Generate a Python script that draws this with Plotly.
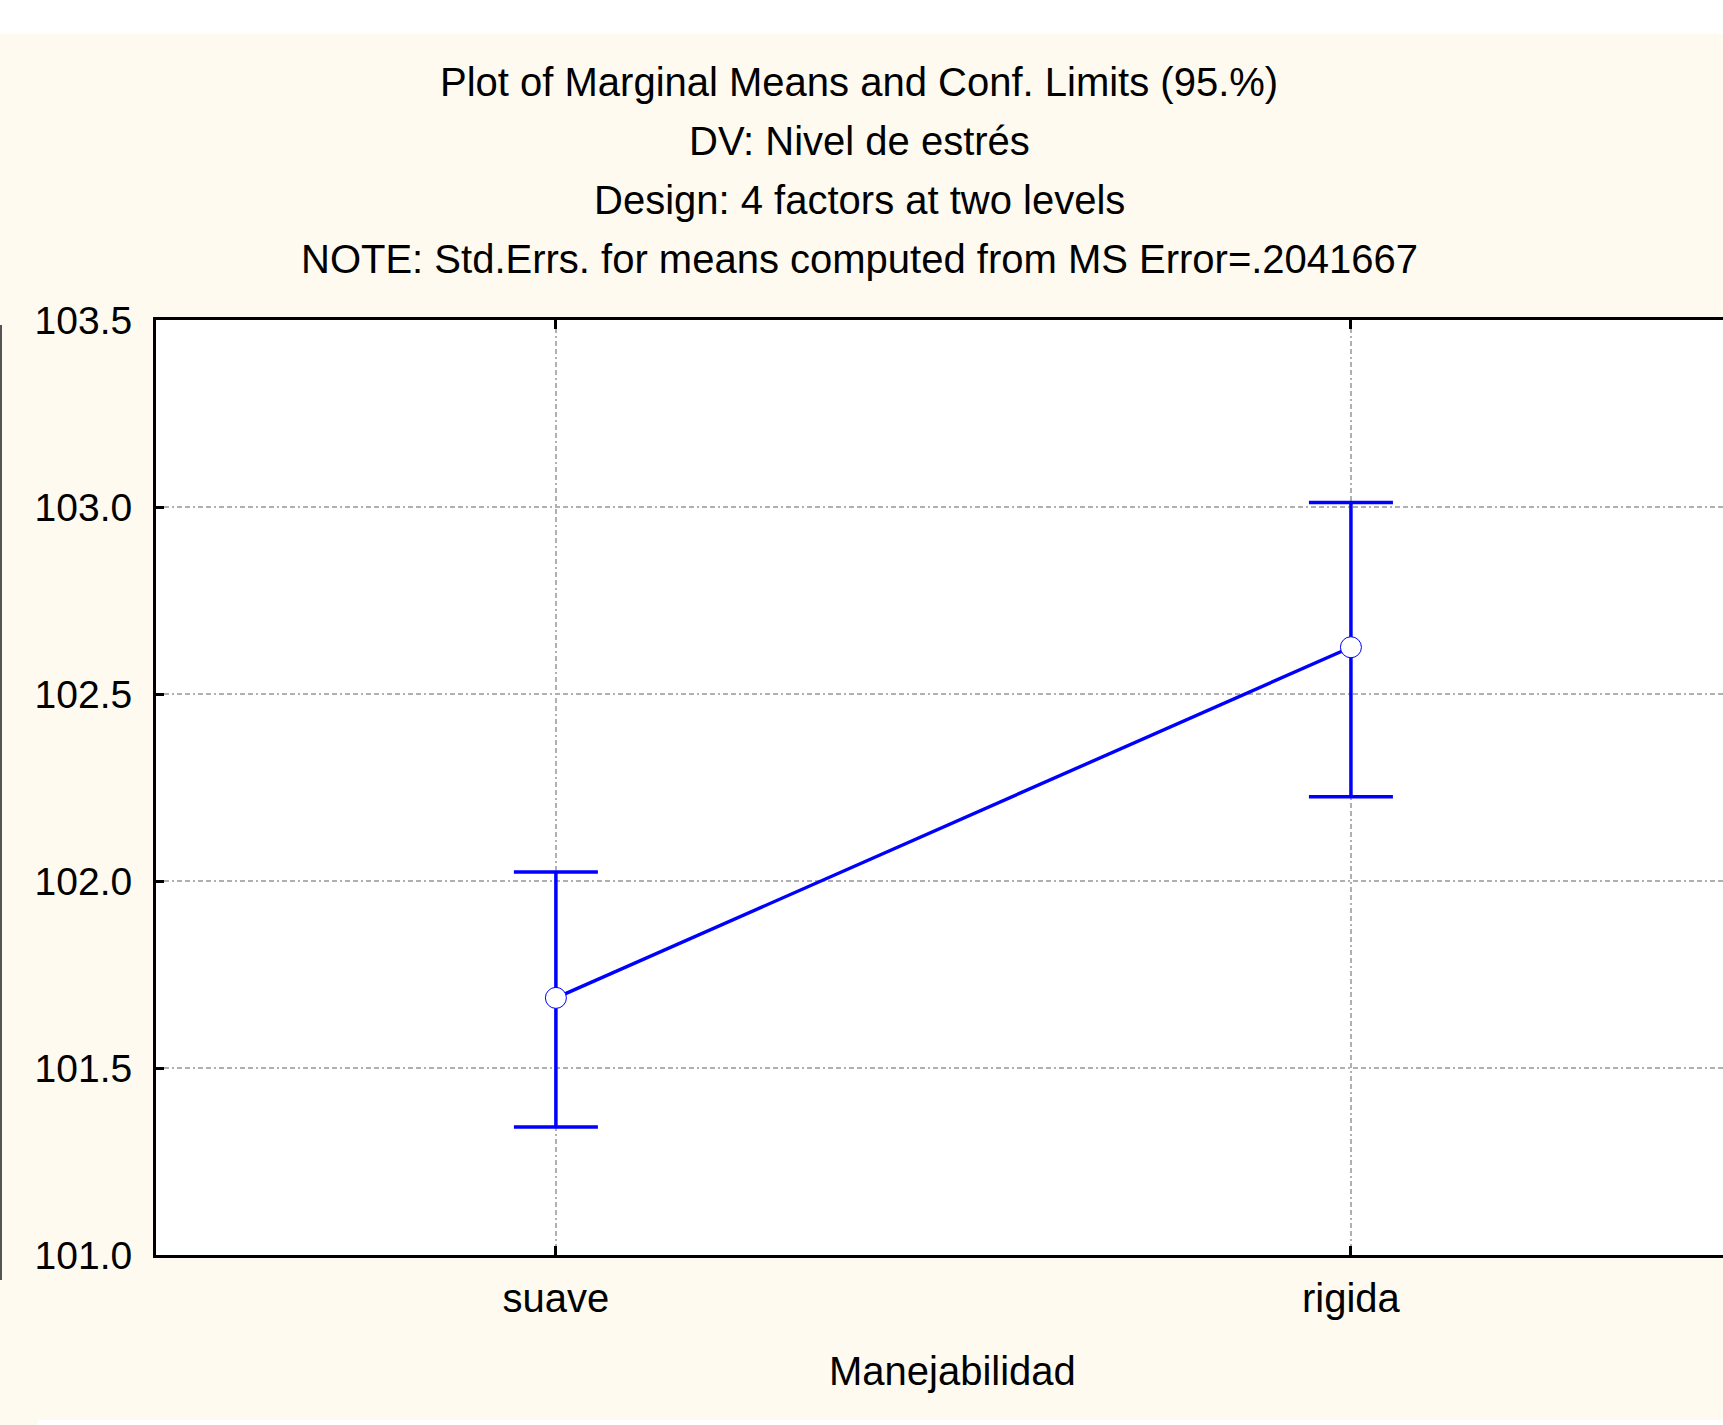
import plotly.graph_objects as go

# ---- data ----
categories = ["suave", "rigida"]
means = [101.6875, 102.625]
upper_limits = [102.024, 103.012]
lower_limits = [101.342, 102.225]
y_ticks = [101.0, 101.5, 102.0, 102.5, 103.0, 103.5]
title_lines = [
    "Plot of Marginal Means and Conf. Limits (95.%)",
    "DV: Nivel de estrés",
    "Design: 4 factors at two levels",
    "NOTE: Std.Errs. for means computed from MS Error=.2041667",
]
x_title = "Manejabilidad"

W, H = 1723, 1425
BEIGE = "#FFFAEF"
BLUE = "#0000FF"
FONT = "Liberation Sans, Arial, sans-serif"

err_plus = [u - m for u, m in zip(upper_limits, means)]
err_minus = [m - l for m, l in zip(means, lower_limits)]

fig = go.Figure()
fig.add_trace(go.Scatter(
    x=categories, y=means, mode="lines+markers",
    line=dict(color=BLUE, width=3.4),
    marker=dict(symbol="circle", size=21, color="white", line=dict(color=BLUE, width=1)),
    error_y=dict(type="data", symmetric=False, array=err_plus, arrayminus=err_minus,
                 color=BLUE, thickness=3.5, width=42),
    showlegend=False,
))

def px_x(p):
    return p / W

def px_y(p):
    return 1 - p / H

grid_dash = "5px,3px,5px,3px,2px,3px"

fig.update_layout(
    width=W, height=H,
    margin=dict(l=0, r=0, t=0, b=0, pad=0, autoexpand=False),
    paper_bgcolor=BEIGE, plot_bgcolor="white",
    font=dict(family=FONT, color="black", size=40),
    xaxis=dict(
        type="category", domain=[px_x(156), 1], range=[-0.503, 1.468],
        showline=True, linecolor="black", linewidth=3, mirror="ticks",
        ticks="inside", ticklen=9, tickwidth=3, tickcolor="black",
        showgrid=True, gridcolor="#B0B0B0", gridwidth=2, griddash=grid_dash,
        tickfont=dict(size=40), zeroline=False, automargin=False,
        ticklabelstandoff=6,
    ),
    yaxis=dict(
        domain=[px_y(1255), px_y(320)], range=[101.0, 103.5],
        tickvals=y_ticks, tickformat=".1f",
        showline=True, linecolor="black", linewidth=3,
        ticks="inside", ticklen=8, tickwidth=3, tickcolor="black",
        showgrid=True, gridcolor="#B0B0B0", gridwidth=2, griddash=grid_dash,
        tickfont=dict(size=39), zeroline=False, ticklabelstandoff=13, automargin=False,
    ),
)

ann = []
for txt, yc in zip(title_lines, [82, 141, 200, 259]):
    ann.append(dict(text=txt, x=px_x(859), y=px_y(yc), xref="paper", yref="paper",
                    xanchor="center", yanchor="middle", showarrow=False,
                    font=dict(size=40)))
ann.append(dict(text=x_title, x=px_x(952), y=px_y(1371), xref="paper", yref="paper",
                xanchor="center", yanchor="middle", showarrow=False, font=dict(size=40)))
fig.update_layout(annotations=ann)

shapes = [
    dict(type="rect", xref="paper", yref="paper", x0=0, x1=1, y0=px_y(34), y1=1,
         fillcolor="white", line=dict(width=0), layer="below"),
    dict(type="rect", xref="paper", yref="paper", x0=px_x(38), x1=1, y0=0, y1=px_y(1420),
         fillcolor="white", line=dict(width=0), layer="below"),
    dict(type="line", xref="paper", yref="paper", x0=px_x(1), x1=px_x(1),
         y0=px_y(325), y1=px_y(1280), line=dict(color="#555555", width=2)),
]
fig.update_layout(shapes=shapes)

fig.write_html("out.html", config={"displayModeBar": False},
               post_script="document.body.style.margin='0';document.body.style.overflow='hidden';")
